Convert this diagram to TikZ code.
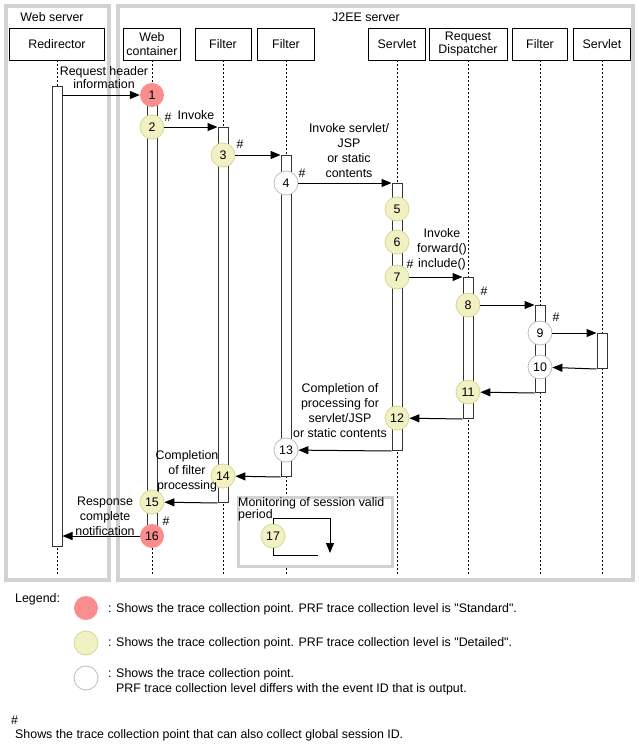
\documentclass[tikz,border=0pt]{standalone}
\usepackage{fontspec}
\setmainfont{Liberation Sans}[Ligatures=TeXOff]
\usetikzlibrary{arrows.meta}
\definecolor{grpgray}{HTML}{D2D2D2}
\definecolor{stdred}{HTML}{FA8E8E}
\definecolor{detfill}{HTML}{F1F1C3}
\definecolor{detline}{HTML}{D8D894}
\definecolor{varline}{HTML}{BEBEBE}
\begin{document}
\begin{tikzpicture}[x=1pt,y=-1pt,
    font=\fontsize{12.4}{15}\selectfont,
    grp/.style={draw=grpgray, line width=4pt},
    head/.style={draw, line width=0.8pt, minimum height=32pt, inner sep=1pt, align=center, font=\fontsize{12.4}{14}\selectfont},
    life/.style={line width=0.8pt, dash pattern=on 2pt off 2pt},
    bar/.style={draw=black!80, fill=white, line width=1pt, minimum width=10pt, inner sep=0pt, anchor=north},
    msg/.style={-{Triangle[length=10pt,width=8pt]}, line width=1pt},
    pt/.style={circle, minimum size=24pt, inner sep=0pt},
    std/.style={pt, fill=stdred},
    det/.style={pt, draw=detline, line width=0.8pt, fill=detfill},
    var/.style={pt, draw=varline, line width=0.8pt, fill=white},
    lbl/.style={align=center, inner sep=0pt},
    sharp/.style={inner sep=0pt}]
\useasboundingbox (0,0) rectangle (639,745);

% server frames
\draw[grp] (6,6) rectangle (109,580);
\draw[grp] (118,6) rectangle (633,580);
\node (websrv) at (52,17) {Web server};
\node (j2ee) at (366,17) {J2EE server};

% lifeline heads
\node[head, minimum width=95pt] (redir) at (57,44) {Redirector};
\node[head, minimum width=57pt] (webc) at (152,44) {Web\\container};
\node[head, minimum width=56pt] (filtA) at (223,44) {Filter};
\node[head, minimum width=57pt] (filtB) at (286,44) {Filter};
\node[head, minimum width=57pt] (servA) at (397,44) {Servlet};
\node[head, minimum width=78pt, font=\fontsize{12.4}{13}\selectfont] (disp) at (468,44) {Request\\Dispatcher};
\node[head, minimum width=55pt] (filtC) at (540,44) {Filter};
\node[head, minimum width=57pt] (servB) at (602,44) {Servlet};

\foreach \n in {redir,webc,filtA,filtB,servA,disp,filtC,servB}
    \draw[life] (\n.south) -- (\n.south |- 0,576);

% activation bars
\node[bar, minimum height=460pt] (barR) at (redir.south |- 0,86) {};
\node[bar, minimum height=435pt] (barW) at (webc.south |- 0,95) {};
\node[bar, minimum height=375pt] (barFA) at (filtA.south |- 0,127) {};
\node[bar, minimum height=321pt] (barFB) at (filtB.south |- 0,155) {};
\node[bar, minimum height=267pt] (barSA) at (servA.south |- 0,183) {};
\node[bar, minimum height=141pt] (barD) at (disp.south |- 0,277) {};
\node[bar, minimum height=87pt] (barFC) at (filtC.south |- 0,305) {};
\node[bar, minimum height=35pt] (barSB) at (servB.south |- 0,333) {};

% session monitoring
\draw[grp, line width=3pt, fill=white] (238,497.5) rectangle (392,566);
\node[anchor=north west, align=left, inner sep=0pt, font=\fontsize{12.4}{12}\selectfont] (mon) at (238,497) {Monitoring of session valid\\period};

% trace points
\node[std] (p1) at (webc.south |- 0,95) {1};
\node[det] (p2) at (webc.south |- 0,127) {2};
\node[det] (p3) at (filtA.south |- 0,155) {3};
\node[var] (p4) at (filtB.south |- 0,183) {4};
\node[det] (p5) at (servA.south |- 0,209) {5};
\node[det] (p6) at (servA.south |- 0,242) {6};
\node[det] (p7) at (servA.south |- 0,277) {7};
\node[det] (p8) at (disp.south |- 0,305) {8};
\node[var] (p9) at (filtC.south |- 0,333) {9};
\node[var] (p10) at (filtC.south |- 0,367) {10};
\node[det] (p11) at (disp.south |- 0,392) {11};
\node[det] (p12) at (servA.south |- 0,418) {12};
\node[var] (p13) at (filtB.south |- 0,450) {13};
\node[det] (p14) at (filtA.south |- 0,476) {14};
\node[det] (p15) at (webc.south |- 0,502) {15};
\node[std] (p16) at (webc.south |- 0,536) {16};
\node[det] (p17) at (273,536) {17};

% messages
\draw[msg] (barR.east |- p1) -- (p1);
\draw[msg] (p2) -- (barFA.north west);
\draw[msg] (p3) -- (barFB.north west);
\draw[msg] (p4) -- (barSA.north west);
\draw[msg] (p7) -- (barD.north west);
\draw[msg] (p8) -- (barFC.north west);
\draw[msg] (p9) -- (barSB.north west);
\draw[msg] (barSB.south west) -- (p10);
\draw[msg] (barFC.south west) -- (p11);
\draw[msg] (barD.south west) -- (p12);
\draw[msg] (barSA.south west) -- (p13);
\draw[msg] (barFB.south west) -- (p14);
\draw[msg] (barFA.south west) -- (p15);
\draw[msg] (p16) -- (barR.east |- p16);

\coordinate (loopR) at (330,553);
\coordinate (loopE) at (318,555);
\draw[msg] (p17.north) |- (330,518) -- (loopR);
\draw[line width=1pt] (p17.south) |- (loopE);

% message labels
\node[lbl, font=\fontsize{12.4}{11}\selectfont] (reqhdr) at (104,77.5) {Request header\\information};
\node[lbl] (invk) at (196,115) {Invoke};
\node[lbl] (invsrv) at (349,150.5) {Invoke servlet/\\JSP\\or static\\contents};
\node[lbl] (invfwd) at (442,249) {Invoke\\forward()\\include()};
\node[lbl] (donesrv) at (340,410.5) {Completion of\\processing for\\servlet/JSP\\or static contents};
\node[lbl] (donefil) at (187,471.5) {Completion\\of filter\\processing};
\node[lbl] (resp) at (105,516) {Response\\complete\\notification};

\node[sharp] (s2) at (168,117) {\#};
\node[sharp] (s3) at (240,144) {\#};
\node[sharp] (s4) at (302,173) {\#};
\node[sharp] (s7) at (410,264) {\#};
\node[sharp] (s8) at (484,291) {\#};
\node[sharp] (s9) at (556,317) {\#};
\node[sharp] (s16) at (166,521) {\#};

% legend
\node[anchor=west, inner sep=0pt] (legend) at (15,599) {Legend:};
\node[std] (lstd) at (86,608) {};
\node[det] (ldet) at (86,643) {};
\node[var] (lvar) at (86,678) {};
\node[anchor=west, inner sep=0pt] (tstd) at (108,609) {: Shows the trace collection point. PRF trace collection level is "Standard".};
\node[anchor=west, inner sep=0pt] (tdet) at (108,643) {: Shows the trace collection point. PRF trace collection level is "Detailed".};
\node[anchor=west, inner sep=0pt] (tvar) at (108,674) {: Shows the trace collection point.};
\node[anchor=west, inner sep=0pt] (tvar2) at (116,689) {PRF trace collection level differs with the event ID that is output.};
\node[anchor=west, inner sep=0pt] (hash) at (11,720) {\#};
\node[anchor=west, inner sep=0pt] (thash) at (15,735) {Shows the trace collection point that can also collect global session ID.};
\end{tikzpicture}
\end{document}
